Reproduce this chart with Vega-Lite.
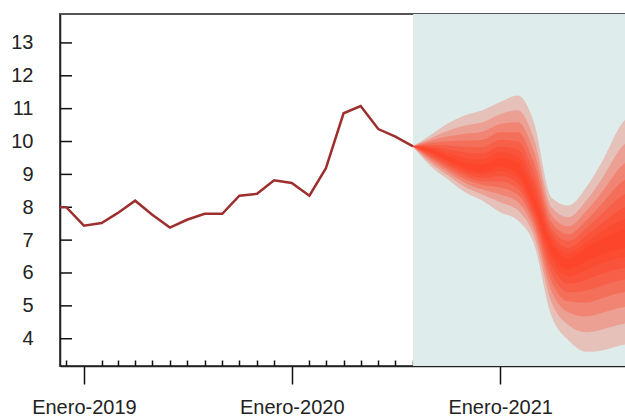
{
  "$schema": "https://vega.github.io/schema/vega-lite/v6.json",
  "width": 566,
  "height": 352,
  "autosize": {"type": "none"},
  "padding": {"left": 60, "top": 14, "right": 0, "bottom": 51},
  "background": "white",
  "config": {
    "view": {"stroke": "#555", "strokeWidth": 2},
    "font": "Liberation Sans",
    "axisY": {
      "title": null, "grid": false,
      "values": [4, 5, 6, 7, 8, 9, 10, 11, 12, 13],
      "ticks": false,
      "labelPadding": 27,
      "domainColor": "#222", "domainWidth": 1.5,
      "labelFontSize": 20, "labelColor": "#222", "labelFont": "Liberation Sans",
      "labelBaseline": "middle", "labelOverlap": false, "zindex": 1
    },
    "axisX": {
      "title": null, "grid": false,
      "tickCount": {"interval": "month", "step": 1},
      "labelExpr": "utcmonth(datum.value) == 0 ? 'Enero-' + utcyear(datum.value) : ''",
      "tickSize": {"condition": {"test": "utcmonth(datum.value) == 0", "value": 18}, "value": -6},
      "tickColor": "#111", "tickWidth": 1.5,
      "domainColor": "#222", "domainWidth": 1.5,
      "labelFontSize": 20, "labelColor": "#222", "labelFont": "Liberation Sans",
      "labelBaseline": "alphabetic", "labelPadding": 29,
      "labelFlush": false, "labelOverlap": false, "labelBound": false, "zindex": 1
    }
  },
  "datasets": {
    "shade": [{"date": "2020-08-01", "end": "2021-12-01"}],
    "yticks": [{"v": 4}, {"v": 5}, {"v": 6}, {"v": 7}, {"v": 8}, {"v": 9}, {"v": 10}, {"v": 11}, {"v": 12}, {"v": 13}],
    "hist": [
      {"date": "2018-11-01", "value": 8.0},
      {"date": "2018-12-01", "value": 8.0},
      {"date": "2019-01-01", "value": 7.44},
      {"date": "2019-02-01", "value": 7.52},
      {"date": "2019-03-01", "value": 7.82},
      {"date": "2019-04-01", "value": 8.2},
      {"date": "2019-05-01", "value": 7.77},
      {"date": "2019-06-01", "value": 7.38},
      {"date": "2019-07-01", "value": 7.62},
      {"date": "2019-08-01", "value": 7.8},
      {"date": "2019-09-01", "value": 7.8},
      {"date": "2019-10-01", "value": 8.35},
      {"date": "2019-11-01", "value": 8.41},
      {"date": "2019-12-01", "value": 8.82},
      {"date": "2020-01-01", "value": 8.74},
      {"date": "2020-02-01", "value": 8.35},
      {"date": "2020-03-01", "value": 9.19},
      {"date": "2020-04-01", "value": 10.86},
      {"date": "2020-05-01", "value": 11.08},
      {"date": "2020-06-01", "value": 10.38},
      {"date": "2020-07-01", "value": 10.15},
      {"date": "2020-08-01", "value": 9.85}
    ],
    "fan": [
      {"date": "2020-08-01", "band": 1, "lo": 9.84, "hi": 9.86},
      {"date": "2020-08-01", "band": 2, "lo": 9.84, "hi": 9.86},
      {"date": "2020-08-01", "band": 3, "lo": 9.84, "hi": 9.86},
      {"date": "2020-08-01", "band": 4, "lo": 9.84, "hi": 9.86},
      {"date": "2020-08-01", "band": 5, "lo": 9.84, "hi": 9.86},
      {"date": "2020-08-01", "band": 6, "lo": 9.84, "hi": 9.86},
      {"date": "2020-08-01", "band": 7, "lo": 9.84, "hi": 9.86},
      {"date": "2020-08-01", "band": 8, "lo": 9.84, "hi": 9.86},
      {"date": "2020-09-01", "band": 1, "lo": 9.68, "hi": 9.76},
      {"date": "2020-09-01", "band": 2, "lo": 9.64, "hi": 9.80},
      {"date": "2020-09-01", "band": 3, "lo": 9.59, "hi": 9.85},
      {"date": "2020-09-01", "band": 4, "lo": 9.54, "hi": 9.90},
      {"date": "2020-09-01", "band": 5, "lo": 9.49, "hi": 9.96},
      {"date": "2020-09-01", "band": 6, "lo": 9.42, "hi": 10.03},
      {"date": "2020-09-01", "band": 7, "lo": 9.34, "hi": 10.10},
      {"date": "2020-09-01", "band": 8, "lo": 9.25, "hi": 10.20},
      {"date": "2020-10-01", "band": 1, "lo": 9.42, "hi": 9.56},
      {"date": "2020-10-01", "band": 2, "lo": 9.37, "hi": 9.65},
      {"date": "2020-10-01", "band": 3, "lo": 9.30, "hi": 9.76},
      {"date": "2020-10-01", "band": 4, "lo": 9.23, "hi": 9.88},
      {"date": "2020-10-01", "band": 5, "lo": 9.16, "hi": 10.01},
      {"date": "2020-10-01", "band": 6, "lo": 9.07, "hi": 10.16},
      {"date": "2020-10-01", "band": 7, "lo": 8.97, "hi": 10.33},
      {"date": "2020-10-01", "band": 8, "lo": 8.85, "hi": 10.55},
      {"date": "2020-11-01", "band": 1, "lo": 9.19, "hi": 9.37},
      {"date": "2020-11-01", "band": 2, "lo": 9.11, "hi": 9.51},
      {"date": "2020-11-01", "band": 3, "lo": 9.03, "hi": 9.67},
      {"date": "2020-11-01", "band": 4, "lo": 8.95, "hi": 9.84},
      {"date": "2020-11-01", "band": 5, "lo": 8.85, "hi": 10.03},
      {"date": "2020-11-01", "band": 6, "lo": 8.74, "hi": 10.24},
      {"date": "2020-11-01", "band": 7, "lo": 8.61, "hi": 10.49},
      {"date": "2020-11-01", "band": 8, "lo": 8.45, "hi": 10.80},
      {"date": "2020-12-01", "band": 1, "lo": 9.07, "hi": 9.29},
      {"date": "2020-12-01", "band": 2, "lo": 8.99, "hi": 9.46},
      {"date": "2020-12-01", "band": 3, "lo": 8.89, "hi": 9.64},
      {"date": "2020-12-01", "band": 4, "lo": 8.79, "hi": 9.83},
      {"date": "2020-12-01", "band": 5, "lo": 8.68, "hi": 10.05},
      {"date": "2020-12-01", "band": 6, "lo": 8.54, "hi": 10.30},
      {"date": "2020-12-01", "band": 7, "lo": 8.39, "hi": 10.59},
      {"date": "2020-12-01", "band": 8, "lo": 8.20, "hi": 10.95},
      {"date": "2021-01-01", "band": 1, "lo": 9.23, "hi": 9.50},
      {"date": "2021-01-01", "band": 2, "lo": 9.10, "hi": 9.67},
      {"date": "2021-01-01", "band": 3, "lo": 8.95, "hi": 9.85},
      {"date": "2021-01-01", "band": 4, "lo": 8.78, "hi": 10.05},
      {"date": "2021-01-01", "band": 5, "lo": 8.60, "hi": 10.28},
      {"date": "2021-01-01", "band": 6, "lo": 8.39, "hi": 10.53},
      {"date": "2021-01-01", "band": 7, "lo": 8.15, "hi": 10.83},
      {"date": "2021-01-01", "band": 8, "lo": 7.85, "hi": 11.20},
      {"date": "2021-02-01", "band": 1, "lo": 9.03, "hi": 9.33},
      {"date": "2021-02-01", "band": 2, "lo": 8.89, "hi": 9.53},
      {"date": "2021-02-01", "band": 3, "lo": 8.73, "hi": 9.76},
      {"date": "2021-02-01", "band": 4, "lo": 8.56, "hi": 10.01},
      {"date": "2021-02-01", "band": 5, "lo": 8.38, "hi": 10.28},
      {"date": "2021-02-01", "band": 6, "lo": 8.16, "hi": 10.59},
      {"date": "2021-02-01", "band": 7, "lo": 7.91, "hi": 10.95},
      {"date": "2021-02-01", "band": 8, "lo": 7.60, "hi": 11.40},
      {"date": "2021-03-01", "band": 1, "lo": 8.05, "hi": 8.35},
      {"date": "2021-03-01", "band": 2, "lo": 7.94, "hi": 8.57},
      {"date": "2021-03-01", "band": 3, "lo": 7.81, "hi": 8.81},
      {"date": "2021-03-01", "band": 4, "lo": 7.68, "hi": 9.08},
      {"date": "2021-03-01", "band": 5, "lo": 7.53, "hi": 9.38},
      {"date": "2021-03-01", "band": 6, "lo": 7.35, "hi": 9.72},
      {"date": "2021-03-01", "band": 7, "lo": 7.15, "hi": 10.11},
      {"date": "2021-03-01", "band": 8, "lo": 6.90, "hi": 10.60},
      {"date": "2021-04-01", "band": 1, "lo": 6.63, "hi": 6.92},
      {"date": "2021-04-01", "band": 2, "lo": 6.44, "hi": 7.06},
      {"date": "2021-04-01", "band": 3, "lo": 6.23, "hi": 7.21},
      {"date": "2021-04-01", "band": 4, "lo": 6.00, "hi": 7.37},
      {"date": "2021-04-01", "band": 5, "lo": 5.75, "hi": 7.55},
      {"date": "2021-04-01", "band": 6, "lo": 5.46, "hi": 7.76},
      {"date": "2021-04-01", "band": 7, "lo": 5.12, "hi": 8.00},
      {"date": "2021-04-01", "band": 8, "lo": 4.70, "hi": 8.30},
      {"date": "2021-05-01", "band": 1, "lo": 6.11, "hi": 6.44},
      {"date": "2021-05-01", "band": 2, "lo": 5.90, "hi": 6.60},
      {"date": "2021-05-01", "band": 3, "lo": 5.67, "hi": 6.77},
      {"date": "2021-05-01", "band": 4, "lo": 5.41, "hi": 6.97},
      {"date": "2021-05-01", "band": 5, "lo": 5.13, "hi": 7.18},
      {"date": "2021-05-01", "band": 6, "lo": 4.80, "hi": 7.42},
      {"date": "2021-05-01", "band": 7, "lo": 4.42, "hi": 7.70},
      {"date": "2021-05-01", "band": 8, "lo": 3.95, "hi": 8.05},
      {"date": "2021-06-01", "band": 1, "lo": 6.36, "hi": 6.76},
      {"date": "2021-06-01", "band": 2, "lo": 6.09, "hi": 6.94},
      {"date": "2021-06-01", "band": 3, "lo": 5.79, "hi": 7.14},
      {"date": "2021-06-01", "band": 4, "lo": 5.46, "hi": 7.36},
      {"date": "2021-06-01", "band": 5, "lo": 5.10, "hi": 7.60},
      {"date": "2021-06-01", "band": 6, "lo": 4.68, "hi": 7.88},
      {"date": "2021-06-01", "band": 7, "lo": 4.20, "hi": 8.20},
      {"date": "2021-06-01", "band": 8, "lo": 3.60, "hi": 8.60},
      {"date": "2021-07-01", "band": 1, "lo": 6.59, "hi": 7.06},
      {"date": "2021-07-01", "band": 2, "lo": 6.31, "hi": 7.29},
      {"date": "2021-07-01", "band": 3, "lo": 5.99, "hi": 7.55},
      {"date": "2021-07-01", "band": 4, "lo": 5.63, "hi": 7.84},
      {"date": "2021-07-01", "band": 5, "lo": 5.25, "hi": 8.15},
      {"date": "2021-07-01", "band": 6, "lo": 4.80, "hi": 8.51},
      {"date": "2021-07-01", "band": 7, "lo": 4.29, "hi": 8.93},
      {"date": "2021-07-01", "band": 8, "lo": 3.65, "hi": 9.45},
      {"date": "2021-08-01", "band": 1, "lo": 6.74, "hi": 7.28},
      {"date": "2021-08-01", "band": 2, "lo": 6.46, "hi": 7.60},
      {"date": "2021-08-01", "band": 3, "lo": 6.14, "hi": 7.95},
      {"date": "2021-08-01", "band": 4, "lo": 5.78, "hi": 8.33},
      {"date": "2021-08-01", "band": 5, "lo": 5.40, "hi": 8.75},
      {"date": "2021-08-01", "band": 6, "lo": 4.95, "hi": 9.24},
      {"date": "2021-08-01", "band": 7, "lo": 4.44, "hi": 9.80},
      {"date": "2021-08-01", "band": 8, "lo": 3.80, "hi": 10.50},
      {"date": "2021-09-01", "band": 1, "lo": 6.80, "hi": 7.37},
      {"date": "2021-09-01", "band": 2, "lo": 6.51, "hi": 7.72},
      {"date": "2021-09-01", "band": 3, "lo": 6.20, "hi": 8.12},
      {"date": "2021-09-01", "band": 4, "lo": 5.85, "hi": 8.55},
      {"date": "2021-09-01", "band": 5, "lo": 5.48, "hi": 9.03},
      {"date": "2021-09-01", "band": 6, "lo": 5.03, "hi": 9.58},
      {"date": "2021-09-01", "band": 7, "lo": 4.53, "hi": 10.21},
      {"date": "2021-09-01", "band": 8, "lo": 3.90, "hi": 11.00}
    ]
  },
  "layer": [
    {
      "data": {"name": "shade"},
      "mark": {"type": "rect", "color": "#deecec", "clip": true},
      "encoding": {
        "x": {"field": "date", "type": "temporal", "scale": {"type": "utc", "domain": [{"year": 2018, "month": 11, "date": 20, "utc": true}, {"year": 2021, "month": 8, "date": 10, "utc": true}]}},
        "x2": {"field": "end"}
      }
    },
    {
      "data": {"name": "fan"},
      "mark": {"type": "area", "color": "#ff3b1f", "clip": true, "interpolate": "monotone"},
      "encoding": {
        "x": {"field": "date", "type": "temporal", "scale": {"type": "utc", "domain": [{"year": 2018, "month": 11, "date": 20, "utc": true}, {"year": 2021, "month": 8, "date": 10, "utc": true}]}},
        "y": {"field": "lo", "type": "quantitative", "scale": {"domain": [3.17, 13.88], "nice": false, "zero": false}},
        "y2": {"field": "hi"},
        "detail": {"field": "band"},
        "opacity": {
          "field": "band", "type": "ordinal",
          "scale": {"domain": [1, 2, 3, 4, 5, 6, 7, 8], "range": [0.34, 0.24, 0.18, 0.14, 0.1, 0.08, 0.06, 0.05]},
          "legend": null
        }
      }
    },
    {
      "mark": {"type": "rule", "color": "#111", "strokeWidth": 1.5, "strokeDash": [8, 5]},
      "encoding": {"y": {"datum": 10, "type": "quantitative", "scale": {"domain": [3.17, 13.88], "nice": false, "zero": false}}}
    },
    {
      "mark": {"type": "rule", "color": "#111", "strokeWidth": 1.5, "strokeDash": [7, 3, 2, 3]},
      "encoding": {"y": {"datum": 7, "type": "quantitative", "scale": {"domain": [3.17, 13.88], "nice": false, "zero": false}}}
    },
    {
      "data": {"name": "yticks"},
      "mark": {"type": "tick", "orient": "horizontal", "size": 24, "thickness": 1.5, "color": "#111", "opacity": 1, "clip": true},
      "encoding": {
        "x": {"datum": {"year": 2018, "month": 11, "date": 20, "utc": true}, "type": "temporal", "scale": {"type": "utc", "domain": [{"year": 2018, "month": 11, "date": 20, "utc": true}, {"year": 2021, "month": 8, "date": 10, "utc": true}]}},
        "y": {"field": "v", "type": "quantitative", "scale": {"domain": [3.17, 13.88], "nice": false, "zero": false}}
      }
    },
    {
      "data": {"name": "hist"},
      "mark": {"type": "line", "color": "#9e2f2f", "strokeWidth": 2.5, "clip": true},
      "encoding": {
        "x": {"field": "date", "type": "temporal", "scale": {"type": "utc", "domain": [{"year": 2018, "month": 11, "date": 20, "utc": true}, {"year": 2021, "month": 8, "date": 10, "utc": true}]}},
        "y": {"field": "value", "type": "quantitative", "scale": {"domain": [3.17, 13.88], "nice": false, "zero": false}}
      }
    }
  ]
}
